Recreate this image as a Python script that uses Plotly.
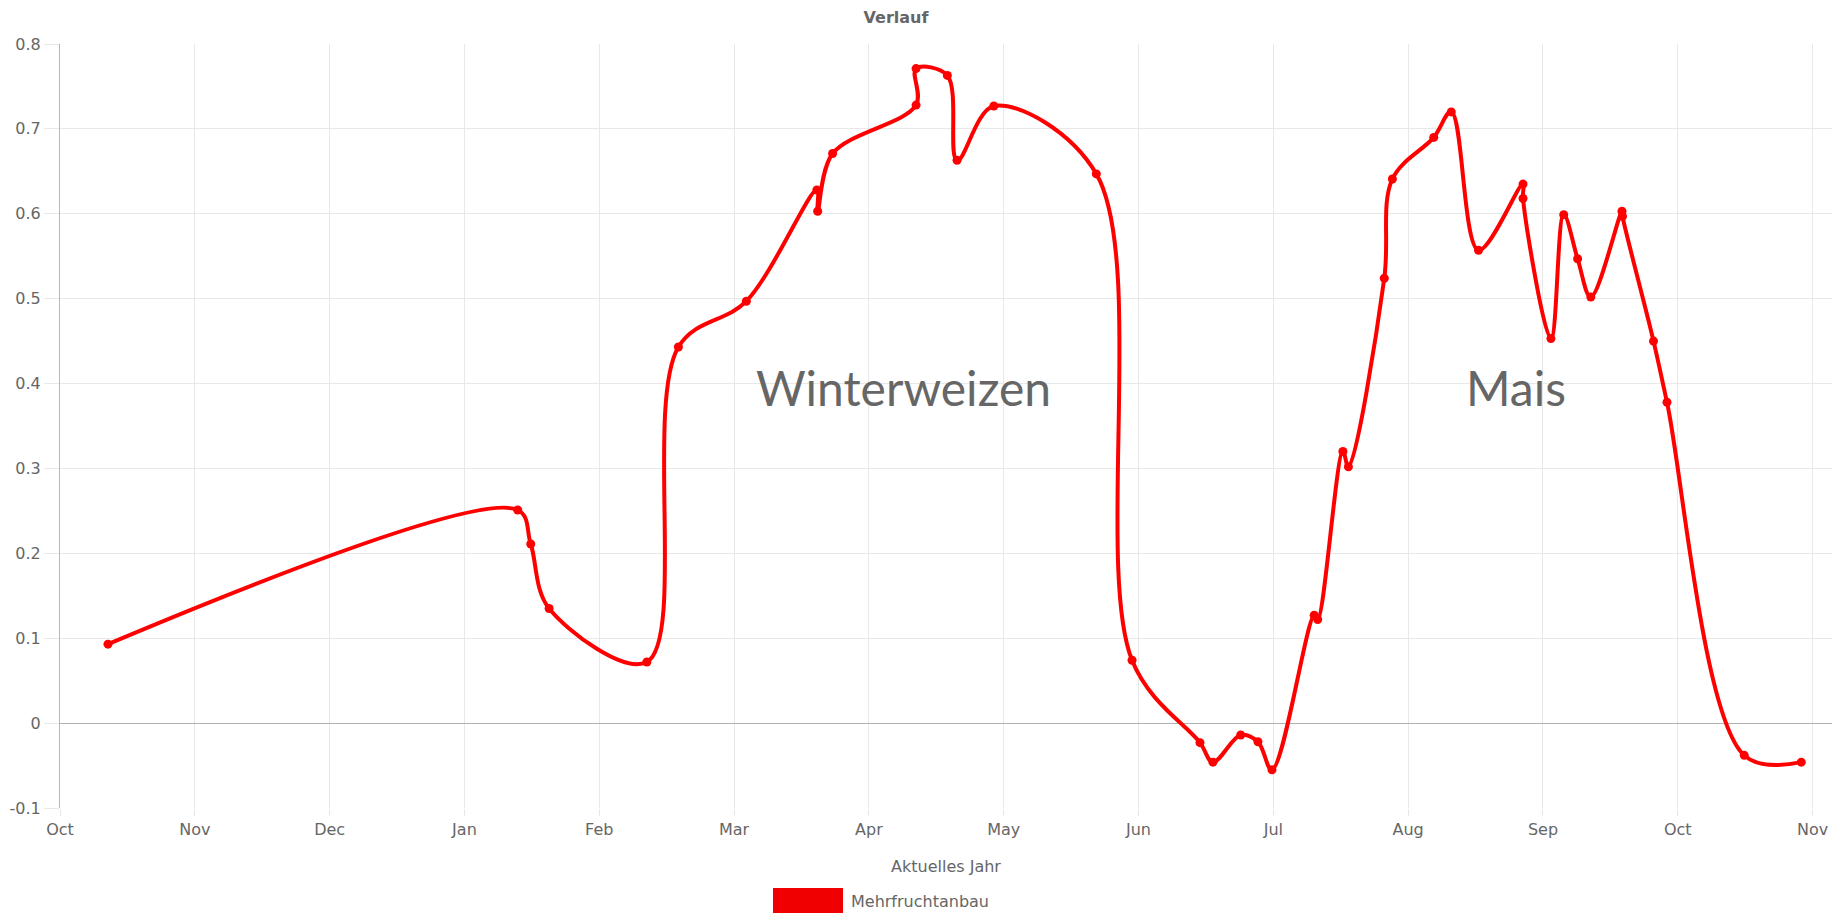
import plotly.graph_objects as go

# ---- data ----
month_labels = ["Oct", "Nov", "Dec", "Jan", "Feb", "Mar", "Apr", "May",
                "Jun", "Jul", "Aug", "Sep", "Oct", "Nov"]

# x position in months since the first "Oct" tick
x_months = [0.356, 3.395, 3.492, 3.628, 4.353, 4.587, 5.091, 5.614, 5.620, 5.731,
            6.350, 6.350, 6.582, 6.654, 6.927, 7.687, 7.952, 8.456, 8.552, 8.758,
            8.886, 8.990, 9.303, 9.329, 9.516, 9.557, 9.823, 9.883, 10.190, 10.320,
            10.522, 10.852, 10.852, 11.059, 11.154, 11.257, 11.355, 11.586, 11.590,
            11.820, 11.920, 12.493, 12.916]
values = [0.093, 0.251, 0.211, 0.135, 0.072, 0.443, 0.497, 0.628, 0.603, 0.671,
          0.728, 0.771, 0.763, 0.663, 0.727, 0.647, 0.074, -0.023, -0.046, -0.014,
          -0.022, -0.055, 0.127, 0.122, 0.320, 0.302, 0.524, 0.641, 0.690, 0.720,
          0.557, 0.635, 0.618, 0.453, 0.599, 0.547, 0.502, 0.603, 0.597,
          0.450, 0.378, -0.038, -0.046]
y_ticks = [-0.1, 0, 0.1, 0.2, 0.3, 0.4, 0.5, 0.6, 0.7, 0.8]
y_tick_text = ["-0.1", "0", "0.1", "0.2", "0.3", "0.4", "0.5", "0.6", "0.7", "0.8"]
series_name = "Mehrfruchtanbau"
crop_labels = ["Winterweizen", "Mais"]
crop_label_x = [6.254, 10.80]
crop_label_y = [0.395, 0.395]

# ---- styling ----
# the page body has an 8px margin, so the figure is 8px smaller than the window
OFF = 8
W, H = 1845 - OFF, 913 - OFF
ML, MR, MT, MB = 60 - OFF, 13, 44 - OFF, 113 - OFF
RED = "#ff0000"
TXT = "#666666"
GRID = "#e8e8e8"
FONT = "DejaVu Sans"

fig = go.Figure()
fig.add_trace(go.Scatter(
    x=x_months, y=values, mode="lines+markers", name=series_name,
    line=dict(color=RED, width=4, shape="spline", smoothing=1.0),
    marker=dict(color=RED, size=9),
    showlegend=False, hoverinfo="x+y",
))

for t, xa, ya in zip(crop_labels, crop_label_x, crop_label_y):
    fig.add_annotation(x=xa, y=ya, xref="x", yref="y", text=t, showarrow=False,
                       font=dict(family="Lato", size=48, color=TXT),
                       xanchor="center", yanchor="middle")

plot_w = W - ML - MR
plot_h = H - MT - MB

# page pixel -> paper coordinates
def px_to_paper_x(px):
    return (px - OFF - ML) / plot_w

def px_to_paper_y(py):
    return (H - MB - (py - OFF)) / plot_h

# legend swatch + label (drawn like the Chart.js legend)
fig.add_shape(type="rect", xref="paper", yref="paper",
              x0=px_to_paper_x(773), x1=px_to_paper_x(843),
              y0=px_to_paper_y(916), y1=px_to_paper_y(888),
              fillcolor="#f00000", line=dict(width=0), layer="above")
fig.add_annotation(x=px_to_paper_x(849), y=px_to_paper_y(913), xref="paper", yref="paper",
                   text=series_name, showarrow=False, xanchor="left", yanchor="bottom",
                   font=dict(family=FONT, size=16, color=TXT))

fig.update_layout(
    width=W, height=H, autosize=False,
    margin=dict(l=ML, r=MR, t=MT, b=MB, pad=0),
    paper_bgcolor="white", plot_bgcolor="white",
    font=dict(family=FONT, size=16, color=TXT),
    title=dict(text="<b>Verlauf</b>", x=(896 - OFF) / W, y=1 - (17 - OFF) / H,
               xanchor="center", yanchor="middle",
               font=dict(family=FONT, size=16, color=TXT)),
    xaxis=dict(
        range=[0, 13.144], tickmode="array",
        tickvals=list(range(len(month_labels))), ticktext=month_labels,
        showgrid=True, gridcolor=GRID, gridwidth=1, zeroline=False,
        ticks="outside", ticklen=7, tickcolor=GRID, tickwidth=1,
        showline=False, tickfont=dict(family=FONT, size=16, color=TXT),
        title=dict(text="Aktuelles Jahr", standoff=22,
                   font=dict(family=FONT, size=16, color=TXT)),
        automargin=False, fixedrange=True,
    ),
    yaxis=dict(
        range=[-0.1, 0.8], tickmode="array", tickvals=y_ticks, ticktext=y_tick_text,
        showgrid=True, gridcolor=GRID, gridwidth=1,
        zeroline=True, zerolinecolor="#b0b0b0", zerolinewidth=1,
        showline=True, linecolor="#b8b8b8", linewidth=1,
        ticks="outside", ticklen=15, tickcolor=GRID, tickwidth=1,
        tickfont=dict(family=FONT, size=16, color=TXT),
        automargin=False, fixedrange=True,
    ),
)

fig.write_html("out.html")
